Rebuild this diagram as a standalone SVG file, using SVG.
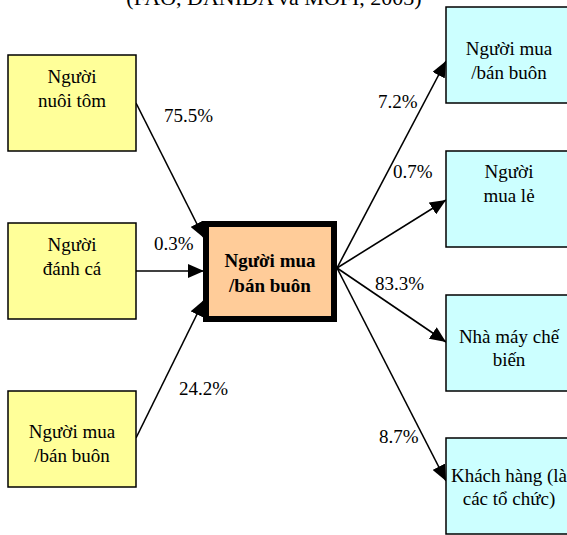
<svg xmlns="http://www.w3.org/2000/svg" width="567" height="535" viewBox="0 0 567 535" font-family="Liberation Serif" font-size="19">
<style>
.c{text-anchor:middle}
.b{font-weight:bold}
.y{fill:#FFFF99;stroke:#000;stroke-width:1.5}
.cy{fill:#CCFFFF;stroke:#000;stroke-width:1.5}
.o{fill:#FFCC99;stroke:#000;stroke-width:6}
.e{stroke:#000;stroke-width:1.6;fill:none;marker-end:url(#ah)}
</style>
<defs>
<marker id="ah" markerUnits="userSpaceOnUse" markerWidth="16" markerHeight="14" viewBox="0 0 16 14" refX="16" refY="7" orient="auto">
<path d="M0,0 L16,7 L0,14 Z" fill="#000"/>
</marker>
</defs>
<text class="c" x="274" y="5" font-size="22">(FAO, DANIDA và MOFI, 2003)</text>
<g id="connectors">
<line class="e" x1="136" y1="103" x2="204" y2="238"/>
<line class="e" x1="136" y1="271" x2="204" y2="271"/>
<line class="e" x1="136" y1="438" x2="204" y2="300"/>
<line class="e" x1="337" y1="268" x2="446" y2="61"/>
<line class="e" x1="337" y1="268" x2="446" y2="200"/>
<line class="e" x1="337" y1="268" x2="446" y2="342"/>
<line class="e" x1="337" y1="268" x2="446" y2="481"/>
<text x="164" y="122">75.5%</text>
<text x="154" y="250">0.3%</text>
<text x="179" y="395">24.2%</text>
<text x="378" y="108">7.2%</text>
<text x="393" y="178">0.7%</text>
<text x="375" y="290">83.3%</text>
<text x="379" y="443">8.7%</text>
</g>
<g id="n-shrimp">
<rect class="y" x="8" y="55" width="128" height="96"/>
<text class="c" x="72" y="83">Người</text>
<text class="c" x="72" y="107">nuôi tôm</text>
</g>
<g id="n-fisher">
<rect class="y" x="8" y="223" width="128" height="96"/>
<text class="c" x="72" y="251">Người</text>
<text class="c" x="72" y="275">đánh cá</text>
</g>
<g id="n-trader-in">
<rect class="y" x="8" y="391" width="128" height="96"/>
<text class="c" x="72" y="438">Người mua</text>
<text class="c" x="72" y="462">/bán buôn</text>
</g>
<g id="n-center">
<rect class="o" x="206" y="224" width="128" height="95"/>
<text class="c b" x="270" y="267">Người mua</text>
<text class="c b" x="270" y="292">/bán buôn</text>
</g>
<g id="n-trader-out">
<rect class="cy" x="446" y="7" width="127" height="96"/>
<text class="c" x="509" y="55">Người mua</text>
<text class="c" x="509" y="79">/bán buôn</text>
</g>
<g id="n-retail">
<rect class="cy" x="446" y="151" width="127" height="96"/>
<text class="c" x="509" y="178">Người</text>
<text class="c" x="509" y="202">mua lẻ</text>
</g>
<g id="n-factory">
<rect class="cy" x="446" y="295" width="127" height="96"/>
<text class="c" x="509" y="343">Nhà máy chế</text>
<text class="c" x="509" y="366">biến</text>
</g>
<g id="n-customer">
<rect class="cy" x="446" y="438" width="127" height="96"/>
<text class="c" x="509" y="482">Khách hàng (là</text>
<text class="c" x="509" y="505">các tổ chức)</text>
</g>
</svg>
